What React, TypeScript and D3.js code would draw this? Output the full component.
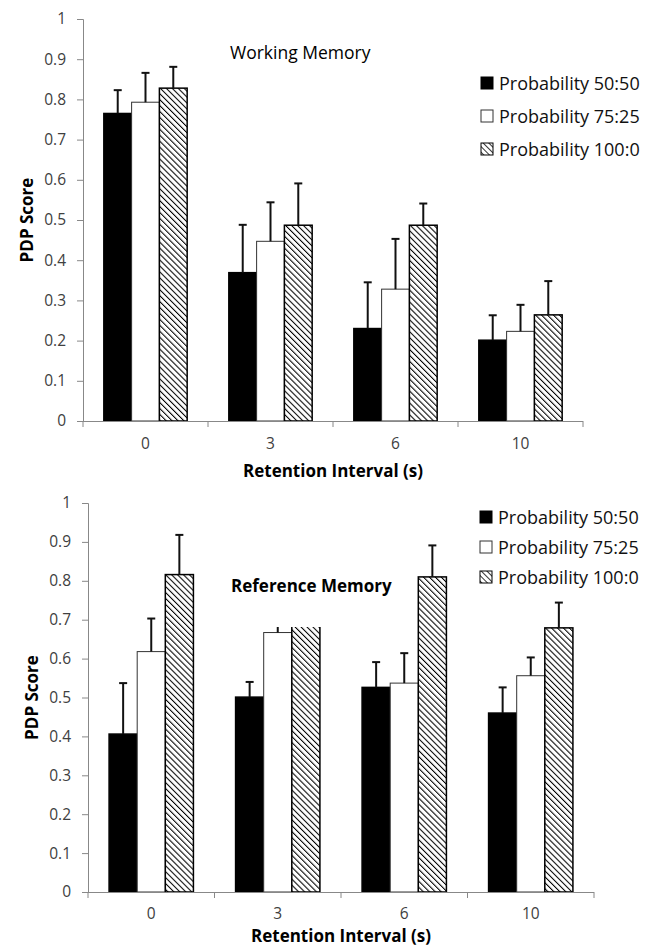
import React, { useRef, useEffect } from 'react';
import * as d3 from 'd3';

// retention intervals (s)
const intervals = ['0', '3', '6', '10'];
const seriesNames = ['Probability 50:50', 'Probability 75:25', 'Probability 100:0'];
const yTicks = [0, 0.1, 0.2, 0.3, 0.4, 0.5, 0.6, 0.7, 0.8, 0.9, 1];

// Working memory: means and upper error bar ends, per series
const wmMeans = [
  [0.765, 0.369, 0.23, 0.201],
  [0.793, 0.447, 0.328, 0.223],
  [0.828, 0.487, 0.487, 0.264],
];
const wmUpper = [
  [0.823, 0.488, 0.345, 0.263],
  [0.866, 0.544, 0.453, 0.289],
  [0.881, 0.591, 0.541, 0.348],
];

// Reference memory (the title box hides the top of the 3 s hatched bar)
const rmMeans = [
  [0.406, 0.501, 0.526, 0.46],
  [0.618, 0.667, 0.537, 0.556],
  [0.816, 0.75, 0.81, 0.679],
];
const rmUpper = [
  [0.537, 0.54, 0.591, 0.526],
  [0.703, 0.72, 0.614, 0.603],
  [0.918, 0.8, 0.891, 0.744],
];

const FONT = '"Open Sans", Lato, sans-serif';

function drawPanel(svg, opts) {
  const { top, bottom, left, right, means, upper, title, titleX, titleY, titleBold, legendX, legendY, legendGap, titleBox, xLabelY, tickLabelOffset } = opts;
  const g = svg.append('g');

  const y = d3.scaleLinear().domain([0, 1]).range([bottom, top]);
  const x0 = d3.scaleBand().domain(intervals).range([left, right]).padding(0);
  const x1 = d3.scaleBand().domain(seriesNames).range([0, x0.bandwidth()]).paddingOuter(0.75).paddingInner(0);

  // bars
  seriesNames.forEach((s, si) => {
    intervals.forEach((c, ci) => {
      const v = means[si][ci];
      const bx = x0(c) + x1(s);
      g.append('rect')
        .attr('x', bx)
        .attr('y', y(v))
        .attr('width', x1.bandwidth())
        .attr('height', y(0) - y(v))
        .attr('fill', si === 0 ? '#000' : si === 1 ? '#fff' : 'url(#hatch)')
        .attr('stroke', si === 1 ? '#333' : '#000')
        .attr('stroke-width', si === 1 ? 1 : 1.5);
      // error bar (upper only)
      const cx = bx + x1.bandwidth() / 2;
      g.append('line')
        .attr('x1', cx).attr('x2', cx)
        .attr('y1', y(v)).attr('y2', y(upper[si][ci]))
        .attr('stroke', '#111').attr('stroke-width', 2);
      g.append('line')
        .attr('x1', cx - 4).attr('x2', cx + 4)
        .attr('y1', y(upper[si][ci])).attr('y2', y(upper[si][ci]))
        .attr('stroke', '#111').attr('stroke-width', 2);
    });
  });

  if (titleBox) {
    g.append('rect')
      .attr('x', titleBox[0]).attr('y', titleBox[1])
      .attr('width', titleBox[2]).attr('height', titleBox[3])
      .attr('fill', '#fff');
  }

  // y axis
  const yAxis = d3.axisLeft(y).tickValues(yTicks).tickSize(6).tickPadding(11)
    .tickFormat(d => (d === 0 || d === 1 ? String(d) : d3.format('.1f')(d)));
  const ya = g.append('g').attr('transform', `translate(${left},0)`).call(yAxis);
  ya.select('.domain').attr('stroke', '#888');
  ya.selectAll('.tick line').attr('stroke', '#888');
  ya.selectAll('text').attr('fill', '#404040').style('font-size', '15.5px').style('font-family', FONT);

  // x axis: ticks at band boundaries
  g.append('line')
    .attr('x1', left).attr('x2', right).attr('y1', bottom + 0.5).attr('y2', bottom + 0.5)
    .attr('stroke', '#888');
  const bounds = intervals.map(c => x0(c)).concat([right]);
  bounds.forEach(b => {
    g.append('line')
      .attr('x1', b).attr('x2', b).attr('y1', bottom).attr('y2', bottom + 6)
      .attr('stroke', '#888');
  });
  intervals.forEach(c => {
    g.append('text')
      .attr('x', x0(c) + x0.bandwidth() / 2)
      .attr('y', bottom + tickLabelOffset)
      .attr('text-anchor', 'middle')
      .attr('fill', '#404040')
      .style('font-size', '15.5px').style('font-family', FONT)
      .text(c);
  });

  // axis titles
  g.append('text')
    .attr('x', (left + right) / 2)
    .attr('y', xLabelY)
    .attr('text-anchor', 'middle')
    .style('font-weight', 'bold').style('font-size', '17px').style('font-family', FONT)
    .text('Retention Interval (s)');
  g.append('text')
    .attr('transform', `translate(${left - 50},${(top + bottom) / 2}) rotate(-90)`)
    .attr('text-anchor', 'middle')
    .style('font-weight', 'bold').style('font-size', '17px').style('font-family', FONT)
    .text('PDP Score');

  // panel title
  g.append('text')
    .attr('x', titleX).attr('y', titleY)
    .style('font-weight', titleBold ? 'bold' : 'normal')
    .style('font-size', titleBold ? '17px' : '17.5px')
    .style('font-family', FONT)
    .text(title);

  // legend
  seriesNames.forEach((s, i) => {
    const ly = legendY + i * legendGap;
    g.append('rect')
      .attr('x', legendX).attr('y', ly - 6)
      .attr('width', 12).attr('height', 12)
      .attr('fill', i === 0 ? '#000' : i === 1 ? '#fff' : 'url(#hatchLegend)')
      .attr('stroke', i === 1 ? '#333' : '#000').attr('stroke-width', 1);
    g.append('text')
      .attr('x', legendX + 18).attr('y', ly + 6.5)
      .style('font-size', '18px').style('font-family', FONT).attr('fill', '#111')
      .text(s);
  });
}

export default function App() {
  const svgRef = useRef(null);

  useEffect(() => {
    const svg = d3.select(svgRef.current);
    svg.selectAll('*').remove();

    const defs = svg.append('defs');
    const hatch = defs.append('pattern')
      .attr('id', 'hatch').attr('patternUnits', 'userSpaceOnUse')
      .attr('width', 4.2).attr('height', 4.2)
      .attr('patternTransform', 'rotate(-45)');
    hatch.append('rect').attr('width', 4.2).attr('height', 4.2).attr('fill', '#fff');
    hatch.append('line').attr('x1', 0).attr('y1', 0).attr('x2', 0).attr('y2', 4.2)
      .attr('stroke', '#000').attr('stroke-width', 2.1);
    const hatchL = defs.append('pattern')
      .attr('id', 'hatchLegend').attr('patternUnits', 'userSpaceOnUse')
      .attr('width', 4).attr('height', 4)
      .attr('patternTransform', 'rotate(-45)');
    hatchL.append('rect').attr('width', 4).attr('height', 4).attr('fill', '#fff');
    hatchL.append('line').attr('x1', 0).attr('y1', 0).attr('x2', 0).attr('y2', 4)
      .attr('stroke', '#000').attr('stroke-width', 1.6);

    drawPanel(svg, {
      top: 19, bottom: 421, left: 83, right: 583,
      means: wmMeans, upper: wmUpper,
      title: 'Working Memory', titleX: 230, titleY: 59, titleBold: false,
      legendX: 481, legendY: 83, legendGap: 33, xLabelY: 477, tickLabelOffset: 28,
    });
    drawPanel(svg, {
      top: 503, bottom: 892, left: 88, right: 594,
      means: rmMeans, upper: rmUpper,
      title: 'Reference Memory', titleX: 231, titleY: 592, titleBold: true,
      legendX: 480, legendY: 517, legendGap: 30,
      titleBox: [224, 560, 176, 67], xLabelY: 942, tickLabelOffset: 27,
    });
  }, []);

  return (
    <svg ref={svgRef} width={655} height={946}
      style={{ position: 'absolute', left: 0, top: 0, background: '#fff' }} />
  );
}
